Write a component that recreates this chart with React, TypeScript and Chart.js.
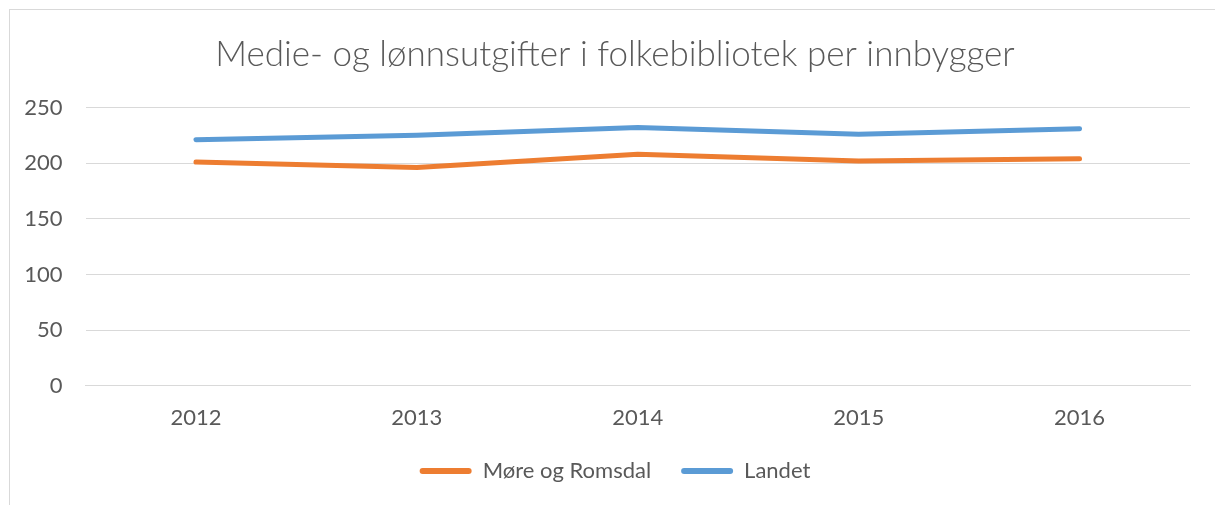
import React, { useEffect, useRef } from "react";
import { Chart, registerables } from "chart.js";

Chart.register(...registerables);

const TITLE = "Medie- og lønnsutgifter i folkebibliotek per innbygger";
const years = ["2012", "2013", "2014", "2015", "2016"];
const moreOgRomsdal = [201, 196, 208, 202, 204];
const landet = [221, 225, 232, 226, 231];
const yTicks = [0, 50, 100, 150, 200, 250];

const ORANGE = "#ED7D31";
const BLUE = "#5B9BD5";
const TEXT = "#595959";
const GRID = "#D9D9D9";
const FONT = "Lato, 'Open Sans', sans-serif";

export default function App() {
  const ref = useRef<HTMLCanvasElement | null>(null);

  useEffect(() => {
    if (!ref.current) return;
    const chart = new Chart(ref.current, {
      type: "line",
      data: {
        labels: years,
        datasets: [
          {
            label: "Møre og Romsdal",
            data: moreOgRomsdal,
            borderColor: ORANGE,
            backgroundColor: ORANGE,
            borderWidth: 5,
            borderCapStyle: "round",
            borderJoinStyle: "round",
            pointRadius: 0,
            tension: 0,
          },
          {
            label: "Landet",
            data: landet,
            borderColor: BLUE,
            backgroundColor: BLUE,
            borderWidth: 5,
            borderCapStyle: "round",
            borderJoinStyle: "round",
            pointRadius: 0,
            tension: 0,
          },
        ],
      },
      options: {
        responsive: false,
        animation: false,
        layout: { padding: { left: 20, right: 5, top: 0, bottom: 13 } },
        plugins: {
          title: {
            display: true,
            text: TITLE,
            color: TEXT,
            font: { family: FONT, size: 35, weight: "300", lineHeight: 1.2 },
            padding: { top: 34, bottom: 31.5 },
          },
          legend: {
            display: true,
            position: "bottom",
            labels: {
              color: TEXT,
              font: { family: FONT, size: 22 },
              boxWidth: 52,
              boxHeight: 6,
              padding: 30,
              useBorderRadius: true,
              borderRadius: 3,
              generateLabels: (c: any) => {
                const items = Chart.defaults.plugins.legend.labels.generateLabels(c);
                return items.map((it: any) => ({ ...it, lineWidth: 0, fillStyle: it.strokeStyle }));
              },
            },
          },
          tooltip: { enabled: false },
        },
        scales: {
          x: {
            type: "category",
            offset: true,
            grid: { display: false, drawTicks: false },
            border: { display: true, color: GRID, width: 1 },
            ticks: { color: TEXT, font: { family: FONT, size: 22 }, padding: 19, maxRotation: 0 },
            afterFit: (s: any) => {
              s.height = 44.3;
            },
          },
          y: {
            min: 0,
            max: 250,
            afterBuildTicks: (s: any) => {
              s.ticks = yTicks.map((v) => ({ value: v }));
            },
            grid: { color: GRID, lineWidth: 1, drawTicks: false },
            border: { display: false },
            ticks: { color: TEXT, font: { family: FONT, size: 22 }, padding: 23 },
            afterFit: (s: any) => {
              s.width = 65.5;
            },
          },
          yRight: {
            position: "right",
            display: true,
            grid: { display: false, drawTicks: false },
            border: { display: false },
            ticks: { display: false },
            afterFit: (s: any) => {
              s.width = 20;
            },
          },
        },
      },
    });
    return () => chart.destroy();
  }, []);

  return (
    <div style={{ position: "fixed", left: 0, top: 0, width: 1215, height: 505, background: "#fff", overflow: "hidden" }}>
      <div
        style={{
          position: "absolute",
          left: 9,
          top: 9,
          width: 1400,
          height: 700,
          border: `1px solid ${GRID}`,
          boxSizing: "border-box",
        }}
      />
      <canvas ref={ref} width={1215} height={505} style={{ position: "absolute", left: 0, top: 0 }} />
    </div>
  );
}
